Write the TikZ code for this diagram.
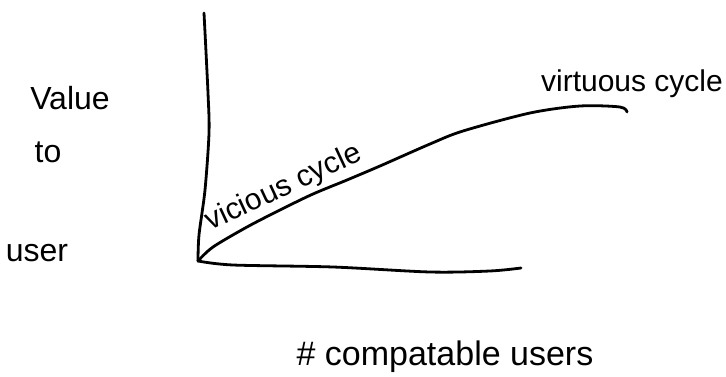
\documentclass[tikz,border=0pt]{standalone}
\usepackage{fontspec}
\setmainfont{Liberation Sans}
\begin{document}
\begin{tikzpicture}[x=1pt,y=-1pt,
  stroke/.style={line width=2.8pt,line cap=round,line join=round,black},
  hand/.style={font=\fontsize{32}{34}\selectfont,inner sep=0pt,anchor=base}]
\useasboundingbox (0,0) rectangle (726,377);
\coordinate (o) at (198,261);
\coordinate (ytop) at (204,13);
\coordinate (xend) at (521,268);
\coordinate (cend) at (627,112);
% axes
\draw[stroke] plot[smooth] coordinates {(ytop) (208,93) (209,133) (205,190) (199,235) (o)};
\draw[stroke] plot[smooth] coordinates {(o) (233,265) (333,267) (430,272) (490,271) (xend)};
% curve
\draw[stroke] plot[smooth] coordinates {(o) (213,247) (247,227) (280,210) (313,194) (347,180) (380,166) (430,144) (463,131) (530,113) (580,106) (620,107) (cend)};
% labels
\node[hand] (value) at (70,110) {Value};
\node[hand] (to) at (48,163) {to};
\node[hand] (user) at (37,261) {user};
\node[hand,font=\fontsize{30}{32}\selectfont,rotate=25] (vicious) at (287,195) {vicious cycle};
\node[hand,font=\fontsize{30}{32}\selectfont] (virtuous) at (632,92) {virtuous cycle};
\node[hand,font=\fontsize{34}{36}\selectfont] (xlabel) at (445,365) {\# compatable users};
\end{tikzpicture}
\end{document}
